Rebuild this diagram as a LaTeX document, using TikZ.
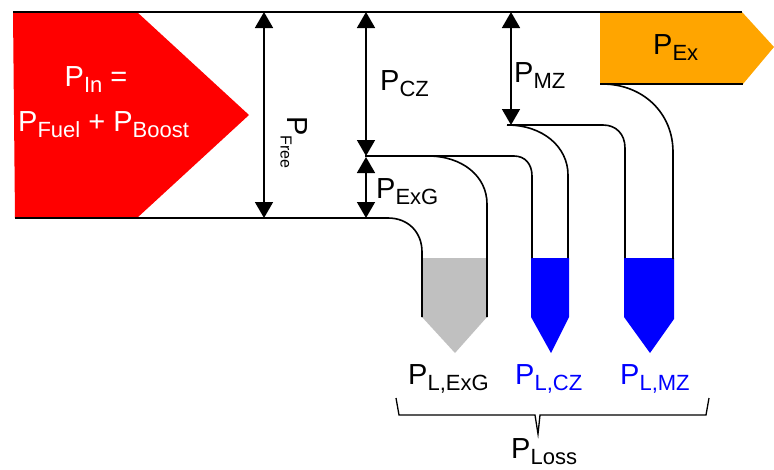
\documentclass[tikz,border=0pt]{standalone}
\usepackage{fontspec}
\setmainfont{Liberation Sans}
\usetikzlibrary{arrows.meta}
\definecolor{inred}{HTML}{FF0000}
\definecolor{exorange}{HTML}{FFA500}
\definecolor{lossblue}{HTML}{0000FF}
\definecolor{lossgray}{HTML}{C0C0C0}
% P with a lowered, smaller subscript
\newcommand{\Psub}[2][22]{P\raisebox{-6.5pt}{\fontsize{#1}{#1}\selectfont #2}}

\begin{document}
\begin{tikzpicture}[x=1pt,y=-1pt,
  lbl/.style={font=\fontsize{29}{31}\selectfont, inner sep=0pt, anchor=base west},
  wall/.style={line width=1.6pt, black},
  dim/.style={line width=1.6pt,
    {Triangle[width=18pt,length=16pt]}-{Triangle[width=18pt,length=16pt]}}]
\useasboundingbox (0,0) rectangle (774,469);

% input and exhaust power arrows
\fill[inred] (13,12) -- (137,12) -- (249,115) -- (137,218) -- (15,218) -- cycle;
\fill[exorange] (600,12) -- (742,12) -- (774,47) -- (743,84) -- (600,84) -- cycle;

% loss reservoirs
\fill[lossgray] (422,258) -- (487,258) -- (487,317) -- (455,353) -- (422,317) -- cycle;
\fill[lossblue] (531,258) -- (569,258) -- (569,317) -- (551,353) -- (531,317) -- cycle;
\fill[lossblue] (624,258) -- (674,258) -- (674,319) -- (650,353) -- (624,317) -- cycle;

% channel walls
\draw[wall] (13,12) -- (742,12);
\draw[wall] (15,218) -- (388,218) .. controls (408,218) and (422,232) .. (422,252) -- (422,317);
\draw[wall] (428,156) .. controls (462,156) and (487,176) .. (487,204) -- (487,317);
\draw[wall] (365,156) -- (514,156) .. controls (525,156) and (532,164) .. (532,176) -- (532,258);
\draw[wall] (507,125) .. controls (543,125) and (568,147) .. (568,175) -- (568,258);
\draw[wall] (507,125) -- (603,125) .. controls (616,125) and (625,134) .. (625,148) -- (625,258);
\draw[wall] (602,84) .. controls (643,84) and (673,113) .. (673,152) -- (673,259);
\draw[wall] (600,84) -- (743,84);

% dimension arrows
\coordinate (freeT) at (264,12);
\coordinate (freeB) at (264,218);
\coordinate (czT) at (366,12);
\coordinate (czB) at (366,156);
\coordinate (exgT) at (366,157);
\coordinate (exgB) at (366,218);
\coordinate (mzT) at (511,12);
\coordinate (mzB) at (511,125);
\draw[dim] (freeT) -- (freeB);
\draw[dim] (czT) -- (czB);
\draw[dim] (exgT) -- (exgB);
\draw[dim] (mzT) -- (mzB);

% brace gathering the losses
\coordinate (brL) at (396,398);
\coordinate (brR) at (709,398);
\coordinate (brM) at (538,434);
\draw[line width=1.3pt, line join=miter] (brL) -- (399,415) -- (535,415) -- (brM) -- (540,415) -- (706,415) -- (brR);

% labels
\node[lbl, text=white] (pin) at (64.5,86) {\Psub{In} =};
\node[lbl, text=white] (pfuel) at (18,131) {\Psub{Fuel} + \Psub{Boost}};
\node[lbl, rotate=-90] (pfree) at (287,116) {\Psub[16]{Free}};
\node[lbl] (pcz) at (380,90) {\Psub{CZ}};
\node[lbl] (pexg) at (376,198) {\Psub{ExG}};
\node[lbl] (pmz) at (514,82) {\Psub{MZ}};
\node[lbl] (pex) at (653,54) {\Psub{Ex}};
\node[lbl] (plexg) at (408,384) {\Psub{L,ExG}};
\node[lbl, text=lossblue] (plcz) at (515,384) {\Psub{L,CZ}};
\node[lbl, text=lossblue] (plmz) at (620,384) {\Psub{L,MZ}};
\node[lbl] (ploss) at (511,458) {\Psub{Loss}};
\end{tikzpicture}
\end{document}
